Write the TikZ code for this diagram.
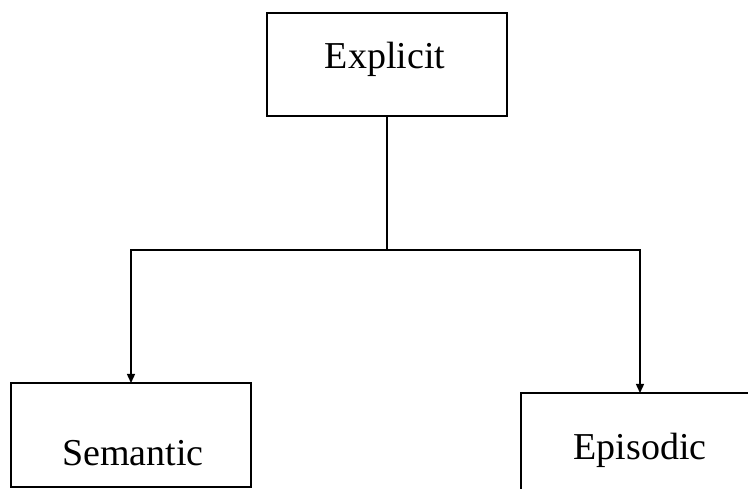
\documentclass[tikz,border=0pt]{standalone}
\usepackage{fontspec}
\setmainfont{Liberation Serif}
\usetikzlibrary{arrows.meta}
\begin{document}
\begin{tikzpicture}[
  box/.style={draw=black,line width=1.5pt,rectangle,inner sep=0pt},
  lbl/.style={anchor=base,inner sep=0pt,font=\fontsize{38}{40}\selectfont},
  conn/.style={line width=1.4pt},
  arr/.style={line width=1.4pt,-{Triangle[length=9pt,width=8pt]}}]
\useasboundingbox (0pt,0pt) rectangle (748pt,-489pt);
\clip (0pt,0pt) rectangle (748pt,-489pt);
% boxes
\node[box,minimum width=240pt,minimum height=103pt] (explicit) at (387pt,-64.5pt) {};
\node[box,minimum width=240pt,minimum height=104pt] (semantic) at (131pt,-435pt) {};
\node[box,minimum width=250pt,minimum height=110pt] (episodic) at (646pt,-448pt) {};
% labels
\node[lbl] (texp) at (385pt,-69pt) {Explicit};
\node[lbl] (tsem) at (133pt,-465pt) {Semantic};
\node[lbl] (tepi) at (640pt,-460pt) {Episodic};
% connectors
\coordinate (junc) at (387pt,-250pt);
\coordinate (semtop) at (131pt,-383pt);
\coordinate (epitop) at (640pt,-393pt);
\draw[conn] (explicit.south) -- (junc);
\draw[arr] (junc) -| (semtop);
\draw[arr] (junc) -| (epitop);
\end{tikzpicture}
\end{document}
